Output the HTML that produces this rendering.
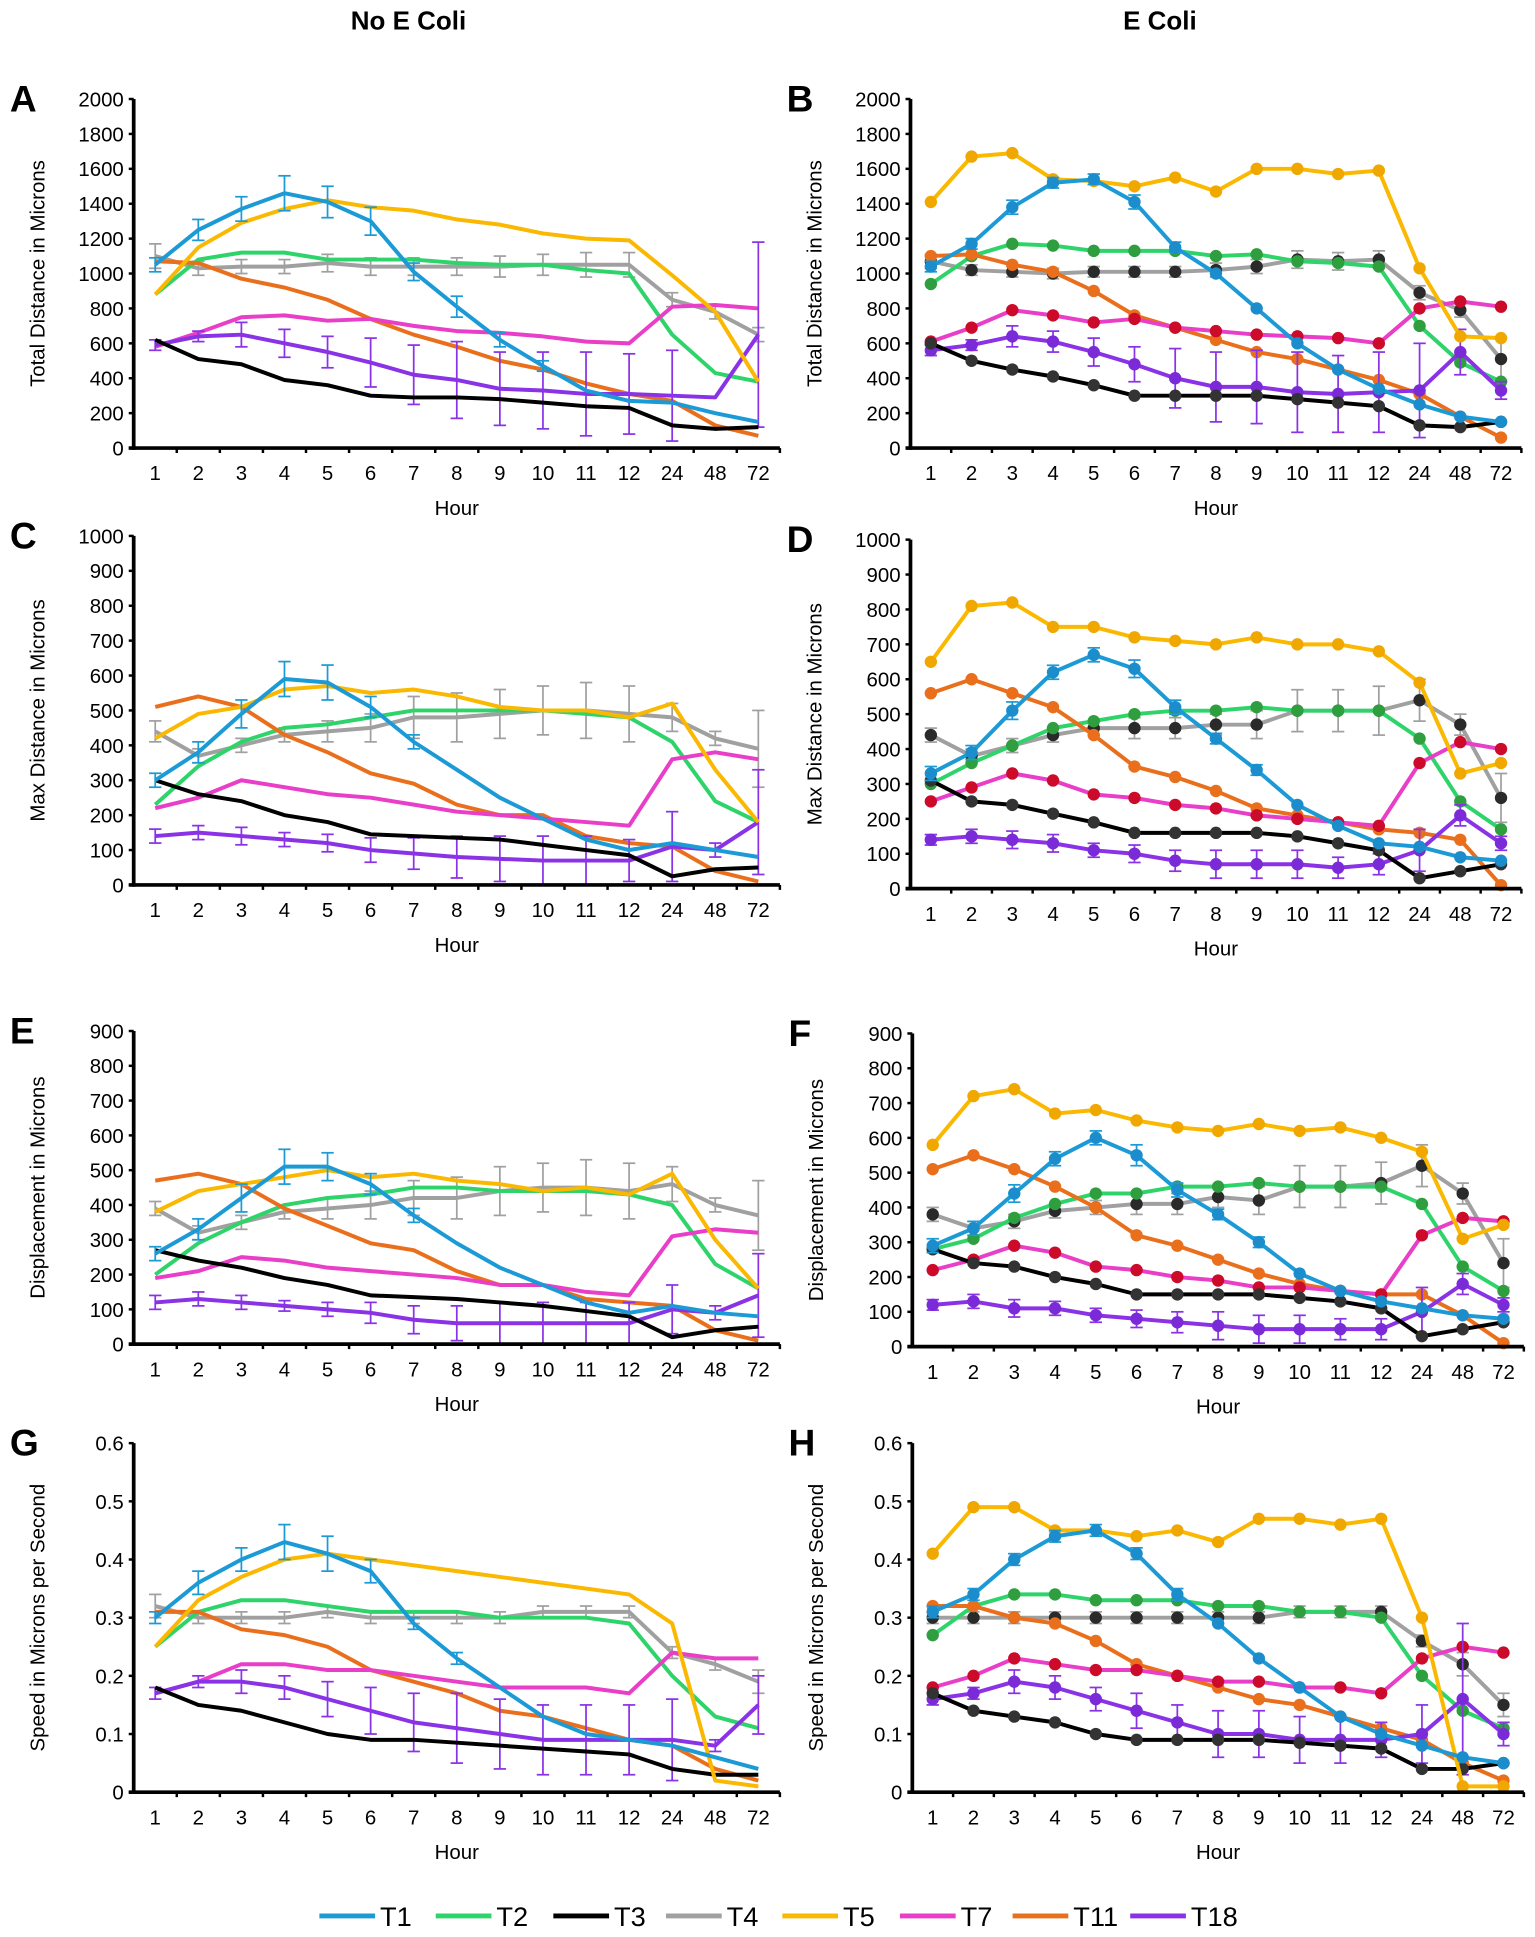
<!DOCTYPE html>
<html><head><meta charset="utf-8"><style>
html,body{margin:0;padding:0;background:#fff}
svg{display:block}
text{font-family:"Liberation Sans",Arial,sans-serif}
</style></head><body>
<svg id="fig" width="1535" height="1937" viewBox="0 0 1240 1565" preserveAspectRatio="none" xmlns="http://www.w3.org/2000/svg">
<text x="330" y="24" font-size="21" font-weight="bold" text-anchor="middle">No E Coli</text>
<text x="937" y="24" font-size="21" font-weight="bold" text-anchor="middle">E Coli</text>
<g id="legend"></g>
</svg>
<script>
const hours = ["1","2","3","4","5","6","7","8","9","10","11","12","24","48","72"];
const seriesNames = ["T1","T2","T3","T4","T5","T7","T11","T18"];
const seriesColors = ["#1b9ad6","#2ed46a","#000000","#a0a0a0","#fbb800","#e83ec8","#ea6f1c","#8a32e6"];
const markerColors = ["#1b8ccc","#2e9e3e","#333333","#2a2a2a","#f0a800","#cc0a2a","#ea6f1c","#7a2ad6"];

const A_T1 = [1050,1250,1370,1460,1410,1300,1010,810,620,470,330,270,260,200,150];
const A_T2 = [880,1080,1120,1120,1080,1080,1080,1060,1050,1050,1020,1000,650,430,380];
const A_T3 = [620,510,480,390,360,300,290,290,280,260,240,230,130,110,120];
const A_T4 = [1100,1030,1040,1040,1060,1040,1040,1040,1040,1050,1050,1050,850,780,650];
const A_T5 = [880,1150,1290,1370,1420,1380,1360,1310,1280,1230,1200,1190,990,780,380];
const A_T7 = [580,660,750,760,730,740,700,670,660,640,610,600,810,820,800];
const A_T11 = [1070,1060,970,920,850,740,650,580,500,450,370,310,270,130,70];
const A_T18 = [590,640,650,600,550,490,420,390,340,330,310,310,300,290,650];
const A_T18err = [30,30,70,80,90,140,170,220,210,220,240,230,260,0,530];
const A_T1err = [40,60,70,100,90,80,50,60,40,30,0,0,0,0,0];
const A_T4err = [70,40,40,40,50,50,50,50,60,60,70,70,40,40,40];

const B_T1 = [1040,1170,1380,1520,1540,1410,1150,1000,800,600,450,340,250,180,150];
const B_T2 = [940,1100,1170,1160,1130,1130,1130,1100,1110,1070,1060,1040,700,490,380];
const B_T3 = [600,500,450,410,360,300,300,300,300,280,260,240,130,120,150];
const B_T4 = [1070,1020,1010,1000,1010,1010,1010,1020,1040,1080,1070,1080,890,790,510];
const B_T5 = [1410,1670,1690,1540,1530,1500,1550,1470,1600,1600,1570,1590,1030,640,630];
const B_T7 = [610,690,790,760,720,740,690,670,650,640,630,600,800,840,810];
const B_T11 = [1100,1110,1050,1010,900,760,690,620,550,510,450,390,310,180,60];
const B_T18 = [560,590,640,610,550,480,400,350,350,320,310,320,330,550,330];
const B_T18err = [30,30,60,60,80,100,170,200,210,230,220,230,270,130,50];
const B_T1err = [30,30,40,30,30,40,30,0,0,0,0,0,0,0,0];
const B_T4err = [40,30,30,30,30,30,30,40,40,50,50,50,40,40,120];

const C_T1 = [300,380,490,590,580,510,410,330,250,190,130,100,120,100,80];
const C_T2 = [230,340,410,450,460,480,500,500,500,500,490,480,410,240,180];
const C_T3 = [300,260,240,200,180,145,140,135,130,115,100,85,25,45,50];
const C_T4 = [440,370,400,430,440,450,480,480,490,500,500,490,480,420,390];
const C_T5 = [420,490,510,560,570,550,560,540,510,500,500,480,520,330,180];
const C_T7 = [220,250,300,280,260,250,230,210,200,190,180,170,360,380,360];
const C_T11 = [510,540,510,430,380,320,290,230,200,200,140,120,110,40,10];
const C_T18 = [140,150,140,130,120,100,90,80,75,70,70,70,110,100,180];
const C_T18err = [20,20,25,20,25,35,45,60,65,70,70,60,100,20,150];
const C_T1err = [20,30,40,50,50,30,20,0,0,0,0,0,0,0,0];
const C_T4err = [30,20,20,20,30,40,60,70,70,70,80,80,40,20,110];

const D_T1 = [330,390,510,620,670,630,520,430,340,240,180,130,120,90,80];
const D_T2 = [300,360,410,460,480,500,510,510,520,510,510,510,430,250,170];
const D_T3 = [310,250,240,215,190,160,160,160,160,150,130,110,30,50,70];
const D_T4 = [440,380,410,440,460,460,460,470,470,510,510,510,540,470,260];
const D_T5 = [650,810,820,750,750,720,710,700,720,700,700,680,590,330,360];
const D_T7 = [250,290,330,310,270,260,240,230,210,200,190,180,360,420,400];
const D_T11 = [560,600,560,520,440,350,320,280,230,210,190,170,160,140,10];
const D_T18 = [140,150,140,130,110,100,80,70,70,70,60,70,110,210,130];
const D_T18err = [15,20,25,25,20,25,30,40,40,40,30,30,60,30,20];
const D_T1err = [20,20,25,20,20,25,20,15,15,0,0,0,0,0,0];
const D_T4err = [20,20,20,20,20,30,30,30,40,60,60,70,60,30,70];

const E_T1 = [260,330,420,510,510,460,370,290,220,170,120,90,110,90,80];
const E_T2 = [200,290,350,400,420,430,450,450,440,440,440,430,400,230,160];
const E_T3 = [270,240,220,190,170,140,135,130,120,110,95,80,20,40,50];
const E_T4 = [390,320,350,380,390,400,420,420,440,450,450,440,460,400,370];
const E_T5 = [380,440,460,480,500,480,490,470,460,440,450,430,490,300,160];
const E_T7 = [190,210,250,240,220,210,200,190,170,170,150,140,310,330,320];
const E_T11 = [470,490,460,390,340,290,270,210,170,170,130,120,110,40,10];
const E_T18 = [120,130,120,110,100,90,70,60,60,60,60,60,100,90,140];
const E_T18err = [20,20,20,15,20,30,40,50,60,60,60,60,70,20,120];
const E_T1err = [20,30,40,50,40,30,20,0,0,0,0,0,0,0,0];
const E_T4err = [20,20,20,20,30,40,50,60,70,70,80,80,50,20,100];

const F_T1 = [290,340,440,540,600,550,450,380,300,210,160,130,110,90,80];
const F_T2 = [280,310,370,410,440,440,460,460,470,460,460,460,410,230,160];
const F_T3 = [280,240,230,200,180,150,150,150,150,140,130,110,30,50,70];
const F_T4 = [380,340,360,390,400,410,410,430,420,460,460,470,520,440,240];
const F_T5 = [580,720,740,670,680,650,630,620,640,620,630,600,560,310,350];
const F_T7 = [220,250,290,270,230,220,200,190,170,170,160,150,320,370,360];
const F_T11 = [510,550,510,460,400,320,290,250,210,180,160,150,150,90,10];
const F_T18 = [120,130,110,110,90,80,70,60,50,50,50,50,100,180,120];
const F_T18err = [15,20,25,20,20,25,30,40,40,40,30,30,70,30,20];
const F_T1err = [20,20,25,20,20,30,20,15,15,0,0,0,0,0,0];
const F_T4err = [20,20,20,20,20,30,30,30,40,60,60,60,60,30,70];

const G_T1 = [0.30,0.36,0.40,0.43,0.41,0.38,0.29,0.23,0.18,0.13,0.10,0.09,0.08,0.06,0.04];
const G_T2 = [0.25,0.31,0.33,0.33,0.32,0.31,0.31,0.31,0.30,0.30,0.30,0.29,0.20,0.13,0.11];
const G_T3 = [0.18,0.15,0.14,0.12,0.10,0.09,0.09,0.085,0.08,0.075,0.07,0.065,0.04,0.03,0.03];
const G_T4 = [0.32,0.30,0.30,0.30,0.31,0.30,0.30,0.30,0.30,0.31,0.31,0.31,0.24,0.22,0.19];
const G_T5 = [0.25,0.33,0.37,0.40,0.41,0.40,0.39,0.38,0.37,0.36,0.35,0.34,0.29,0.02,0.01];
const G_T7 = [0.17,0.19,0.22,0.22,0.21,0.21,0.20,0.19,0.18,0.18,0.18,0.17,0.24,0.23,0.23];
const G_T11 = [0.31,0.31,0.28,0.27,0.25,0.21,0.19,0.17,0.14,0.13,0.11,0.09,0.08,0.04,0.02];
const G_T18 = [0.17,0.19,0.19,0.18,0.16,0.14,0.12,0.11,0.10,0.09,0.09,0.09,0.09,0.08,0.15];
const G_T18err = [0.01,0.01,0.02,0.02,0.03,0.04,0.05,0.06,0.06,0.06,0.06,0.06,0.07,0.01,0.05];
const G_T1err = [0.01,0.02,0.02,0.03,0.03,0.02,0.01,0.01,0,0,0,0,0,0,0];
const G_T4err = [0.02,0.01,0.01,0.01,0.01,0.01,0.01,0.01,0.01,0.01,0.01,0.01,0.01,0.01,0.02];

const H_T1 = [0.31,0.34,0.40,0.44,0.45,0.41,0.34,0.29,0.23,0.18,0.13,0.10,0.08,0.06,0.05];
const H_T2 = [0.27,0.32,0.34,0.34,0.33,0.33,0.33,0.32,0.32,0.31,0.31,0.30,0.20,0.14,0.11];
const H_T3 = [0.17,0.14,0.13,0.12,0.10,0.09,0.09,0.09,0.09,0.085,0.08,0.075,0.04,0.04,0.05];
const H_T4 = [0.30,0.30,0.30,0.30,0.30,0.30,0.30,0.30,0.30,0.31,0.31,0.31,0.26,0.22,0.15];
const H_T5 = [0.41,0.49,0.49,0.45,0.45,0.44,0.45,0.43,0.47,0.47,0.46,0.47,0.30,0.01,0.01];
const H_T7 = [0.18,0.20,0.23,0.22,0.21,0.21,0.20,0.19,0.19,0.18,0.18,0.17,0.23,0.25,0.24];
const H_T11 = [0.32,0.32,0.30,0.29,0.26,0.22,0.20,0.18,0.16,0.15,0.13,0.11,0.09,0.05,0.02];
const H_T18 = [0.16,0.17,0.19,0.18,0.16,0.14,0.12,0.10,0.10,0.09,0.09,0.09,0.10,0.16,0.10];
const H_T18err = [0.01,0.01,0.02,0.02,0.02,0.03,0.03,0.04,0.04,0.04,0.04,0.03,0.05,0.13,0.02];
const H_T1err = [0.01,0.01,0.01,0.01,0.01,0.01,0.01,0,0,0,0,0,0,0,0];
const H_T4err = [0.01,0.01,0.01,0.01,0.01,0.01,0.01,0.01,0.01,0.01,0.01,0.01,0.01,0.02,0.02];

const yTicksDist2000 = ["0","200","400","600","800","1000","1200","1400","1600","1800","2000"];
const yTicks1000 = ["0","100","200","300","400","500","600","700","800","900","1000"];
const yTicks900 = ["0","100","200","300","400","500","600","700","800","900"];
const yTicksSpeed = ["0","0.1","0.2","0.3","0.4","0.5","0.6"];

const NS='http://www.w3.org/2000/svg';
const svg=document.getElementById('fig');
function mk(tag,attrs,parent){const e=document.createElementNS(NS,tag);for(const k in attrs)e.setAttribute(k,attrs[k]);(parent||svg).appendChild(e);return e;}

const panels=[
 {id:'A',x0:108,x1:630,top:80,bot:362,ticks:yTicksDist2000,ymax:2000,title:'Total Distance in Microns',markers:false,
  data:[A_T1,A_T2,A_T3,A_T4,A_T5,A_T7,A_T11,A_T18],err:{0:A_T1err,3:A_T4err,7:A_T18err}},
 {id:'B',x0:735.5,x1:1229,top:80,bot:362,ticks:yTicksDist2000,ymax:2000,title:'Total Distance in Microns',markers:true,
  data:[B_T1,B_T2,B_T3,B_T4,B_T5,B_T7,B_T11,B_T18],err:{0:B_T1err,3:B_T4err,7:B_T18err}},
 {id:'C',x0:108,x1:630,top:433,bot:715,ticks:yTicks1000,ymax:1000,title:'Max Distance in Microns',markers:false,
  data:[C_T1,C_T2,C_T3,C_T4,C_T5,C_T7,C_T11,C_T18],err:{0:C_T1err,3:C_T4err,7:C_T18err}},
 {id:'D',x0:735.5,x1:1229,top:436,bot:718,ticks:yTicks1000,ymax:1000,title:'Max Distance in Microns',markers:true,
  data:[D_T1,D_T2,D_T3,D_T4,D_T5,D_T7,D_T11,D_T18],err:{0:D_T1err,3:D_T4err,7:D_T18err}},
 {id:'E',x0:108,x1:630,top:833,bot:1086,ticks:yTicks900,ymax:900,title:'Displacement in Microns',markers:false,
  data:[E_T1,E_T2,E_T3,E_T4,E_T5,E_T7,E_T11,E_T18],err:{0:E_T1err,3:E_T4err,7:E_T18err}},
 {id:'F',x0:737,x1:1231,top:835,bot:1088,ticks:yTicks900,ymax:900,title:'Displacement in Microns',markers:true,
  data:[F_T1,F_T2,F_T3,F_T4,F_T5,F_T7,F_T11,F_T18],err:{0:F_T1err,3:F_T4err,7:F_T18err}},
 {id:'G',x0:108,x1:630,top:1166,bot:1448,ticks:yTicksSpeed,ymax:0.6,title:'Speed in Microns per Second',markers:false,
  data:[G_T1,G_T2,G_T3,G_T4,G_T5,G_T7,G_T11,G_T18],err:{0:G_T1err,3:G_T4err,7:G_T18err}},
 {id:'H',x0:737,x1:1231,top:1166,bot:1448,ticks:yTicksSpeed,ymax:0.6,title:'Speed in Microns per Second',markers:true,
  data:[H_T1,H_T2,H_T3,H_T4,H_T5,H_T7,H_T11,H_T18],err:{0:H_T1err,3:H_T4err,7:H_T18err}}
];
const drawOrder=[3,1,6,5,7,2,4,0];

panels.forEach(p=>{
 const g=mk('g',{});
 
 
 const n=hours.length, bw=(p.x1-p.x0)/n;
 const xs=i=>p.x0+(i+0.5)*bw;
 const ys=v=>p.bot-(v/p.ymax)*(p.bot-p.top);
 const lbl=mk('text',{x:p.x0-100,y:p.top+10,'font-size':30,'font-weight':'bold'},g);
 lbl.textContent=p.id;
 
 
 p.ticks.forEach((t,k)=>{
  const y=p.bot-k*(p.bot-p.top)/(p.ticks.length-1);
  mk('line',{x1:p.x0-4,x2:p.x0,y1:y,y2:y,stroke:'#000','stroke-width':2},g);
  const tt=mk('text',{x:p.x0-8,y:y+6,'font-size':16.5,'text-anchor':'end'},g);
  tt.textContent=t;
  
  
 });
 hours.forEach((h,i)=>{
  const tt=mk('text',{x:xs(i),y:p.bot+26,'font-size':16.5,'text-anchor':'middle'},g);
  tt.textContent=h;
  
  
  mk('line',{x1:p.x0+i*bw+bw,x2:p.x0+i*bw+bw,y1:p.bot,y2:p.bot+4,stroke:'#000','stroke-width':2},g);
 });
 const ht=mk('text',{x:(p.x0+p.x1)/2,y:p.bot+54,'font-size':16.5,'text-anchor':'middle'},g);
 ht.textContent='Hour';
 
 
 const cy=(p.top+p.bot)/2, tx=p.x0-72;
 const yt=mk('text',{x:tx,y:cy,'font-size':16.5,'text-anchor':'middle',transform:`rotate(-90 ${tx} ${cy})`},g);
 yt.textContent=p.title;
 
 
 drawOrder.forEach(s=>{
  const vals=p.data[s], col=seriesColors[s];
  const sg=mk('g',{},g);
  
  
  const e=p.err[s];
  if(e){vals.forEach((v,i)=>{if(!e[i])return;const x=xs(i);
   mk('line',{x1:x,x2:x,y1:ys(v+e[i]),y2:ys(Math.max(0,v-e[i])),stroke:col,'stroke-width':1.4},sg);
   mk('line',{x1:x-5,x2:x+5,y1:ys(v+e[i]),y2:ys(v+e[i]),stroke:col,'stroke-width':1.4},sg);
   mk('line',{x1:x-5,x2:x+5,y1:ys(Math.max(0,v-e[i])),y2:ys(Math.max(0,v-e[i])),stroke:col,'stroke-width':1.4},sg);});}
  const pts=vals.map((v,i)=>xs(i).toFixed(1)+','+ys(v).toFixed(1)).join(' ');
  const pl=mk('polyline',{points:pts,fill:'none',stroke:col,'stroke-width':3.2,'stroke-linejoin':'round'},sg);
  
  
  if(p.markers){vals.forEach((v,i)=>{
   const c=mk('circle',{cx:xs(i),cy:ys(v),r:5,fill:markerColors[s]},sg);
   
   });}
 });
 mk('line',{x1:p.x0,x2:p.x0,y1:p.top,y2:p.bot+1.5,stroke:'#000','stroke-width':3},g);
 mk('line',{x1:p.x0-4,x2:p.x1,y1:p.bot,y2:p.bot,stroke:'#000','stroke-width':3},g);
});

const legX=[258,352,447,538,632,727,818,913];
const lg=document.getElementById('legend');
seriesNames.forEach((nm,i)=>{
 const eg=mk('g',{},lg);
 
 
 mk('line',{x1:legX[i],x2:legX[i]+45,y1:1548,y2:1548,stroke:seriesColors[i],'stroke-width':4},eg);
 const t=mk('text',{x:legX[i]+49,y:1556,'font-size':22},eg);
 t.textContent=nm;
});
</script>
</body></html>
